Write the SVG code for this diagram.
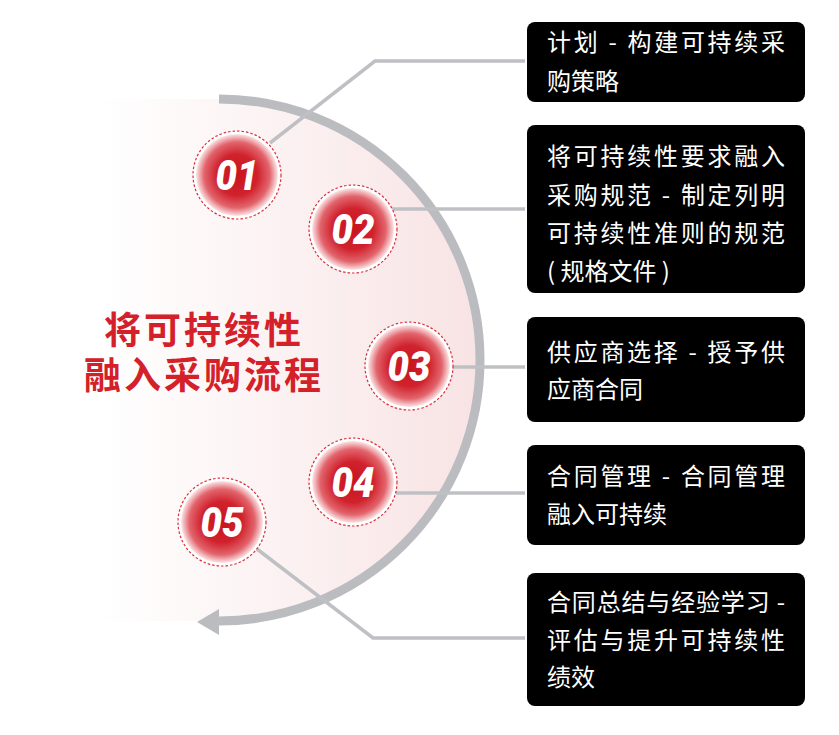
<svg xmlns="http://www.w3.org/2000/svg" width="839" height="735" viewBox="0 0 839 735">
<defs>
  <linearGradient id="bgGrad" x1="100" y1="0" x2="480" y2="0" gradientUnits="userSpaceOnUse">
    <stop offset="0" stop-color="#ffffff"/>
    <stop offset="1" stop-color="#f8e3e4"/>
  </linearGradient>
  <radialGradient id="ball" cx="0.5" cy="0.5" r="0.5">
    <stop offset="0" stop-color="#c8141f"/>
    <stop offset="0.5" stop-color="#d0222d"/>
    <stop offset="0.8" stop-color="#e2646c"/>
    <stop offset="1" stop-color="#fbe6e7"/>
  </radialGradient>
</defs>
<style>
  .conn{fill:none;stroke:#bfc0c3;stroke-width:3.5;stroke-linejoin:miter}
  .arc{fill:none;stroke:#bbbcc0;stroke-width:9}
  .box{fill:#000000}
  .bt{font-family:"Noto Sans CJK SC","Noto Sans",sans-serif;font-size:24px;fill:#ffffff}
  .ring{fill:#ffffff;stroke:#dc2f3a;stroke-width:1.2;stroke-dasharray:2.5 2}
  .disc{fill:url(#ball)}
  .num{font-family:Roboto,"Liberation Sans",sans-serif;font-weight:900;font-style:italic;font-size:42px;fill:#ffffff;text-anchor:middle}
  .title{font-family:"Noto Sans CJK SC",sans-serif;font-weight:700;font-size:37px;fill:#d42029;letter-spacing:3px}
</style>

<g id="background">
  <path d="M100,99 H219 A261,261 0 0 1 219,621 H100 Z" fill="url(#bgGrad)"/>
  <path class="arc" d="M219,99 A261,261 0 0 1 219,621"/>
  <polygon points="197,622 219,609 219,635" fill="#bbbcc0"/>
</g>

<g id="title">
  <text class="title"><tspan x="104" y="344">将可持续性</tspan><tspan x="84" y="389">融入采购流程</tspan></text>
</g>

<g id="connectors">
  <polyline class="conn" points="270,143 375,61 525,61"/>
  <polyline class="conn" points="392,209 525,209"/>
  <polyline class="conn" points="452,367 525,367"/>
  <polyline class="conn" points="396,493 525,493"/>
  <polyline class="conn" points="257,549 373,638 525,638"/>
</g>

<g id="step01">
  <circle class="ring" cx="237" cy="175" r="44"/>
  <circle class="disc" cx="237" cy="175" r="41"/>
  <text class="num" x="237" y="190" textLength="43" lengthAdjust="spacingAndGlyphs">01</text>
</g>
<g id="step02">
  <circle class="ring" cx="353" cy="229" r="44"/>
  <circle class="disc" cx="353" cy="229" r="41"/>
  <text class="num" x="353" y="244" textLength="43" lengthAdjust="spacingAndGlyphs">02</text>
</g>
<g id="step03">
  <circle class="ring" cx="409" cy="366" r="44"/>
  <circle class="disc" cx="409" cy="366" r="41"/>
  <text class="num" x="409" y="381" textLength="43" lengthAdjust="spacingAndGlyphs">03</text>
</g>
<g id="step04">
  <circle class="ring" cx="353" cy="482" r="44"/>
  <circle class="disc" cx="353" cy="482" r="41"/>
  <text class="num" x="353" y="497" textLength="43" lengthAdjust="spacingAndGlyphs">04</text>
</g>
<g id="step05">
  <circle class="ring" cx="222" cy="522" r="44"/>
  <circle class="disc" cx="222" cy="522" r="41"/>
  <text class="num" x="222" y="537" textLength="43" lengthAdjust="spacingAndGlyphs">05</text>
</g>

<g id="box1">
  <rect class="box" x="527" y="22" width="278" height="80" rx="8"/>
  <text class="bt" x="547" y="51" textLength="238" lengthAdjust="spacing">计划 - 构建可持续采</text>
  <text class="bt" x="547" y="90">购策略</text>
</g>
<g id="box2">
  <rect class="box" x="527" y="125" width="278" height="168" rx="8"/>
  <text class="bt" x="547" y="165" textLength="238" lengthAdjust="spacing">将可持续性要求融入</text>
  <text class="bt" x="547" y="204" textLength="238" lengthAdjust="spacing">采购规范 - 制定列明</text>
  <text class="bt" x="547" y="242" textLength="238" lengthAdjust="spacing">可持续性准则的规范</text>
  <text class="bt" x="547" y="280">( 规格文件 )</text>
</g>
<g id="box3">
  <rect class="box" x="527" y="317" width="278" height="105" rx="8"/>
  <text class="bt" x="547" y="361" textLength="238" lengthAdjust="spacing">供应商选择 - 授予供</text>
  <text class="bt" x="547" y="398">应商合同</text>
</g>
<g id="box4">
  <rect class="box" x="527" y="445" width="278" height="100" rx="8"/>
  <text class="bt" x="547" y="485" textLength="238" lengthAdjust="spacing">合同管理 - 合同管理</text>
  <text class="bt" x="547" y="523">融入可持续</text>
</g>
<g id="box5">
  <rect class="box" x="527" y="573" width="278" height="133" rx="8"/>
  <text class="bt" x="547" y="611" textLength="238" lengthAdjust="spacing">合同总结与经验学习 -</text>
  <text class="bt" x="547" y="649" textLength="238" lengthAdjust="spacing">评估与提升可持续性</text>
  <text class="bt" x="547" y="686">绩效</text>
</g>
</svg>
